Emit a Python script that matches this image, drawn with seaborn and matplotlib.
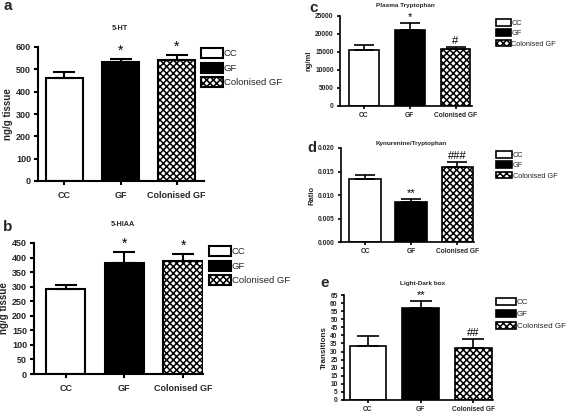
import numpy as np
import pandas as pd
import matplotlib
matplotlib.use("Agg")
import matplotlib.pyplot as plt
import seaborn as sns
from matplotlib.patches import Patch
from matplotlib.ticker import FormatStrFormatter

groups = ["CC", "GF", "Colonised GF"]

ht_mean = [462, 535, 540]
ht_err = [25, 12, 25]
ht_sig = ["", "*", "*"]

hiaa_mean = [292, 382, 388]
hiaa_err = [14, 36, 24]
hiaa_sig = ["", "*", "*"]

trp_mean = [15500, 21000, 15700]
trp_err = [1500, 2000, 800]
trp_sig = ["", "*", "#"]

kyn_mean = [0.0133, 0.0086, 0.0160]
kyn_err = [0.0010, 0.0006, 0.0011]
kyn_sig = ["", "**", "###"]

ld_mean = [33.5, 57, 32.5]
ld_err = [6, 4, 5.5]
ld_sig = ["", "**", "##"]

sns.set_theme(style="ticks")
plt.rcParams["font.family"] = ["Liberation Sans", "DejaVu Sans"]
plt.rcParams["hatch.linewidth"] = 1.1

W, H = 569, 416
fig = plt.figure(figsize=(W / 100, H / 100), dpi=100)
HATCH = "xxxxx"


def px_axes(x0, x1, ytop, ybot):
    return fig.add_axes([x0 / W, 1 - ybot / H, (x1 - x0) / W, (ybot - ytop) / H])


def panel(rect, means, errs, sigs, title, title_xy, ylabel, ylim, yticks, xlim,
          width, label, label_xy, legend_xy, fs, cap, lw, yfmt=None, legfs=7,
          sigfs=9, titlefs=5.5, hl=2.0, hh=1.0, ls=0.35, ylfs=6, tlen=3,
          xpad=4, labfs=11):
    ax = px_axes(*rect)
    df = pd.DataFrame({"group": groups, "value": means})
    sns.barplot(data=df, x="group", y="value", hue="group",
                palette=["white", "black", "white"], edgecolor="black",
                linewidth=lw, width=width, ax=ax, legend=False, saturation=1)
    for p in ax.patches[:3]:
        p.set_edgecolor("black")
    ax.patches[2].set_hatch(HATCH)
    ax.errorbar(range(3), means, yerr=[[0, 0, 0], errs], fmt="none",
                ecolor="black", elinewidth=lw, capsize=cap, capthick=lw)
    span = ylim[1] - ylim[0]
    for i, s in enumerate(sigs):
        if s:
            ax.text(i, means[i] + errs[i] + span * 0.01, s, ha="center",
                    va="bottom", fontsize=sigfs, color="black")
    ax.set_xlim(*xlim)
    ax.set_ylim(*ylim)
    ax.set_yticks(yticks)
    if yfmt:
        ax.yaxis.set_major_formatter(FormatStrFormatter(yfmt))
    ax.set_xlabel("")
    ax.set_ylabel(ylabel, fontsize=ylfs, fontweight="bold", labelpad=2)
    sns.despine(ax=ax)
    for sp in ("left", "bottom"):
        ax.spines[sp].set_linewidth(lw)
        ax.spines[sp].set_color("black")
    ax.tick_params(axis="both", labelsize=fs, width=lw, length=tlen, pad=2,
                   color="black")
    for t in ax.get_xticklabels() + ax.get_yticklabels():
        t.set_fontweight("bold")
    ax.tick_params(axis="x", pad=xpad)
    fig.text(title_xy[0] / W, 1 - title_xy[1] / H, title, fontsize=titlefs,
             fontweight="bold", ha="center", va="center")
    fig.text(label_xy[0] / W, 1 - label_xy[1] / H, label, fontsize=labfs,
             fontweight="bold", ha="left", va="center")
    handles = [Patch(facecolor="white", edgecolor="black", linewidth=lw),
               Patch(facecolor="black", edgecolor="black", linewidth=lw),
               Patch(facecolor="white", edgecolor="black", linewidth=lw,
                     hatch=HATCH)]
    fig.legend(handles, groups, loc="upper left",
               bbox_to_anchor=(legend_xy[0] / W, 1 - legend_xy[1] / H),
               frameon=False, fontsize=legfs, handlelength=hl, handleheight=hh,
               handletextpad=0.1, labelspacing=ls, borderpad=0,
               borderaxespad=0)
    return ax


panel((38, 204, 47, 181), ht_mean, ht_err, ht_sig, "5-HT", (120, 29),
      "ng/g tissue", (0, 600), np.arange(0, 601, 100), (-0.473, 2.49), 0.66,
      "a", (3, 6), (201, 48), 6.5, 8, 1.5, legfs=6.8, sigfs=10, hl=2.3,
      hh=1.3, ls=0.45, titlefs=5.2, ylfs=7)

panel((34, 203, 243, 374), hiaa_mean, hiaa_err, hiaa_sig, "5-HIAA", (123, 224),
      "ng/g tissue", (0, 450), np.arange(0, 451, 50), (-0.54, 2.34), 0.67,
      "b", (3, 227), (209, 246), 6.5, 8, 1.5, legfs=6.8, sigfs=10, hl=2.3,
      hh=1.3, ls=0.45, titlefs=5.2, ylfs=7)

panel((340, 472, 16, 106), trp_mean, trp_err, trp_sig, "Plasma Tryptophan",
      (405, 5), "ng/ml", (0, 25000), np.arange(0, 25001, 5000), (-0.52, 2.36),
      0.65, "c", (309, 8), (496, 19), 4.8, 7, 1.2, legfs=5.3, sigfs=8,
      hl=2.0, hh=1.0, ls=0.35, titlefs=4.6, ylfs=5.5, tlen=2.5, xpad=2)

panel((341, 474, 148, 242), kyn_mean, kyn_err, kyn_sig,
      "Kynurenine/Tryptophan", (411, 143), "Ratio", (0, 0.020),
      np.arange(0, 0.0201, 0.005), (-0.52, 2.36), 0.68, "d", (307, 148),
      (496, 151), 4.8, 7, 1.2, yfmt="%.3f", legfs=5.3, sigfs=8, hl=2.2,
      hh=1.0, ls=0.35, titlefs=4.6, ylfs=5.5, tlen=2.5, xpad=2, labfs=10.5)

panel((344, 493, 295, 400), ld_mean, ld_err, ld_sig, "Light-Dark box",
      (422, 284), "Transitions", (0, 65), np.arange(0, 66, 5), (-0.455, 2.37),
      0.70, "e", (320, 283), (496, 298), 4.8, 8, 1.2, legfs=5.8, sigfs=8,
      hl=2.5, hh=1.0, ls=0.45, titlefs=4.6, ylfs=5.8, tlen=2.5, xpad=1.5)

fig.savefig("out.png", dpi=100)
